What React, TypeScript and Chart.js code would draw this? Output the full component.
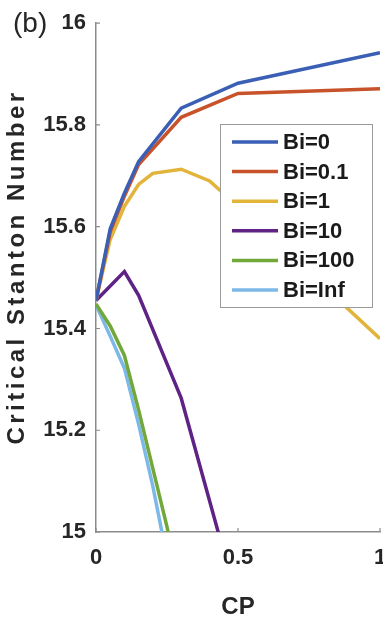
import React, { useEffect, useRef } from "react";
import { Chart, registerables } from "chart.js";

Chart.register(...registerables);

// ---- data ----
const seriesLabels = ["Bi=0", "Bi=0.1", "Bi=1", "Bi=10", "Bi=100", "Bi=Inf"];

const cpBi0 = [0, 0.05, 0.1, 0.15, 0.3, 0.5, 1];
const stBi0 = [15.455, 15.596, 15.666, 15.728, 15.833, 15.882, 15.942];

const cpBi01 = [0, 0.05, 0.1, 0.15, 0.3, 0.5, 1];
const stBi01 = [15.455, 15.59, 15.66, 15.722, 15.815, 15.862, 15.871];

const cpBi1 = [0, 0.05, 0.1, 0.15, 0.2, 0.3, 0.4, 0.5, 1];
const stBi1 = [15.455, 15.575, 15.64, 15.683, 15.705, 15.713, 15.69, 15.64, 15.38];

const cpBi10 = [0, 0.1, 0.15, 0.3, 0.45];
const stBi10 = [15.455, 15.512, 15.465, 15.263, 14.96];

const cpBi100 = [0, 0.05, 0.1, 0.15, 0.2, 0.25, 0.3];
const stBi100 = [15.448, 15.405, 15.347, 15.24, 15.125, 15.01, 14.88];

const cpBiInf = [0, 0.05, 0.1, 0.15, 0.2, 0.25];
const stBiInf = [15.446, 15.385, 15.322, 15.212, 15.09, 14.95];

const xTicks = [0, 0.5, 1];
const yTicks = [15, 15.2, 15.4, 15.6, 15.8, 16];

const seriesColors = ["#3a5fb4", "#c8532a", "#e3b43a", "#5e2385", "#72a83a", "#7cb9e6"];

const xTitle = "CP";
const yTitle = "Critical Stanton Number";
const panelLabel = "(b)";

const FONT = '"Liberation Sans", Arial, Helvetica, sans-serif';

const allCp = [cpBi0, cpBi01, cpBi1, cpBi10, cpBi100, cpBiInf];
const allSt = [stBi0, stBi01, stBi1, stBi10, stBi100, stBiInf];

const fmt = (v: any) => String(Number(Number(v).toFixed(1)));

const decorPlugin = {
  id: "decor",
  afterDraw(chart: any) {
    const { ctx, chartArea } = chart;
    const xs = chart.scales.x;
    const ys = chart.scales.y;
    ctx.save();
    // inward tick marks
    ctx.strokeStyle = "#8c8c8c";
    ctx.lineWidth = 1.2;
    ctx.beginPath();
    yTicks.forEach((v) => {
      const py = ys.getPixelForValue(v);
      ctx.moveTo(chartArea.left, py);
      ctx.lineTo(chartArea.left + 4, py);
    });
    xTicks.forEach((v) => {
      const px = xs.getPixelForValue(v);
      ctx.moveTo(px, chartArea.bottom);
      ctx.lineTo(px, chartArea.bottom - 4);
    });
    ctx.stroke();

    // y title
    ctx.fillStyle = "#262626";
    ctx.font = `bold 24px ${FONT}`;
    ctx.textAlign = "center";
    ctx.textBaseline = "middle";
    ctx.save();
    ctx.translate(17, 269);
    ctx.rotate(-Math.PI / 2);
    try { (ctx as any).letterSpacing = "3.5px"; } catch (e) {}
    ctx.fillText(yTitle, 2, 0);
    ctx.restore();

    // x title
    ctx.font = `bold 24px ${FONT}`;
    ctx.fillText(xTitle, (chartArea.left + chartArea.right) / 2, 607);

    // panel label
    ctx.font = `28px ${FONT}`;
    ctx.textAlign = "left";
    ctx.fillText(panelLabel, 13, 24);

    // legend
    const bx = 220, by = 124, bw = 152, bh = 183;
    ctx.fillStyle = "#ffffff";
    ctx.fillRect(bx, by, bw, bh);
    ctx.strokeStyle = "#9a9a9a";
    ctx.lineWidth = 1;
    ctx.strokeRect(bx + 0.5, by + 0.5, bw, bh);
    chart.data.datasets.forEach((ds: any, i: number) => {
      const yy = 142 + i * 29.6;
      ctx.strokeStyle = ds.borderColor;
      ctx.lineWidth = 3.5;
      ctx.beginPath();
      ctx.moveTo(232, yy);
      ctx.lineTo(278, yy);
      ctx.stroke();
      ctx.fillStyle = "#1a1a1a";
      ctx.font = `bold 22px ${FONT}`;
      ctx.textAlign = "left";
      ctx.textBaseline = "middle";
      ctx.fillText(ds.label, 283, yy + 1);
    });
    ctx.restore();
  },
};

export default function App() {
  const ref = useRef<HTMLCanvasElement | null>(null);
  useEffect(() => {
    if (!ref.current) return;
    const datasets = seriesLabels.map((label, i) => ({
      label,
      data: allCp[i].map((x, j) => ({ x, y: allSt[i][j] })),
      borderColor: seriesColors[i],
      backgroundColor: seriesColors[i],
      borderWidth: 3.5,
      pointRadius: 0,
      tension: 0,
      fill: false,
      clip: 0,
    }));
    const chart = new Chart(ref.current, {
      type: "line",
      data: { datasets },
      plugins: [decorPlugin],
      options: {
        animation: false,
        responsive: true,
        maintainAspectRatio: false,
        layout: { padding: { left: 0, top: 19, right: 20, bottom: 0 } },
        plugins: { legend: { display: false }, tooltip: { enabled: false } },
        scales: {
          x: {
            type: "linear",
            min: 0,
            max: 1,
            afterBuildTicks: (s: any) => { s.ticks = xTicks.map((v) => ({ value: v })); },
            afterFit: (s: any) => { s.height = 91; },
            grid: { display: false, drawTicks: false },
            border: { display: true, color: "#8c8c8c", width: 1.5 },
            ticks: { color: "#262626", padding: 13, font: { family: FONT, size: 22, weight: "bold" }, maxRotation: 0, callback: fmt },
          },
          y: {
            type: "linear",
            min: 15,
            max: 16,
            afterBuildTicks: (s: any) => { s.ticks = yTicks.map((v) => ({ value: v })); },
            afterFit: (s: any) => { s.width = 96; },
            grid: { display: false, drawTicks: false },
            border: { display: true, color: "#8c8c8c", width: 1.5 },
            ticks: { color: "#262626", padding: 10, font: { family: FONT, size: 22, weight: "bold" }, callback: fmt },
          },
        },
      } as any,
    });
    return () => chart.destroy();
  }, []);
  return (
    <div style={{ position: "fixed", left: 0, top: 0, width: 383, height: 623, overflow: "hidden", background: "#fff" }}>
      <div style={{ width: 400, height: 623 }}>
        <canvas ref={ref} />
      </div>
    </div>
  );
}
